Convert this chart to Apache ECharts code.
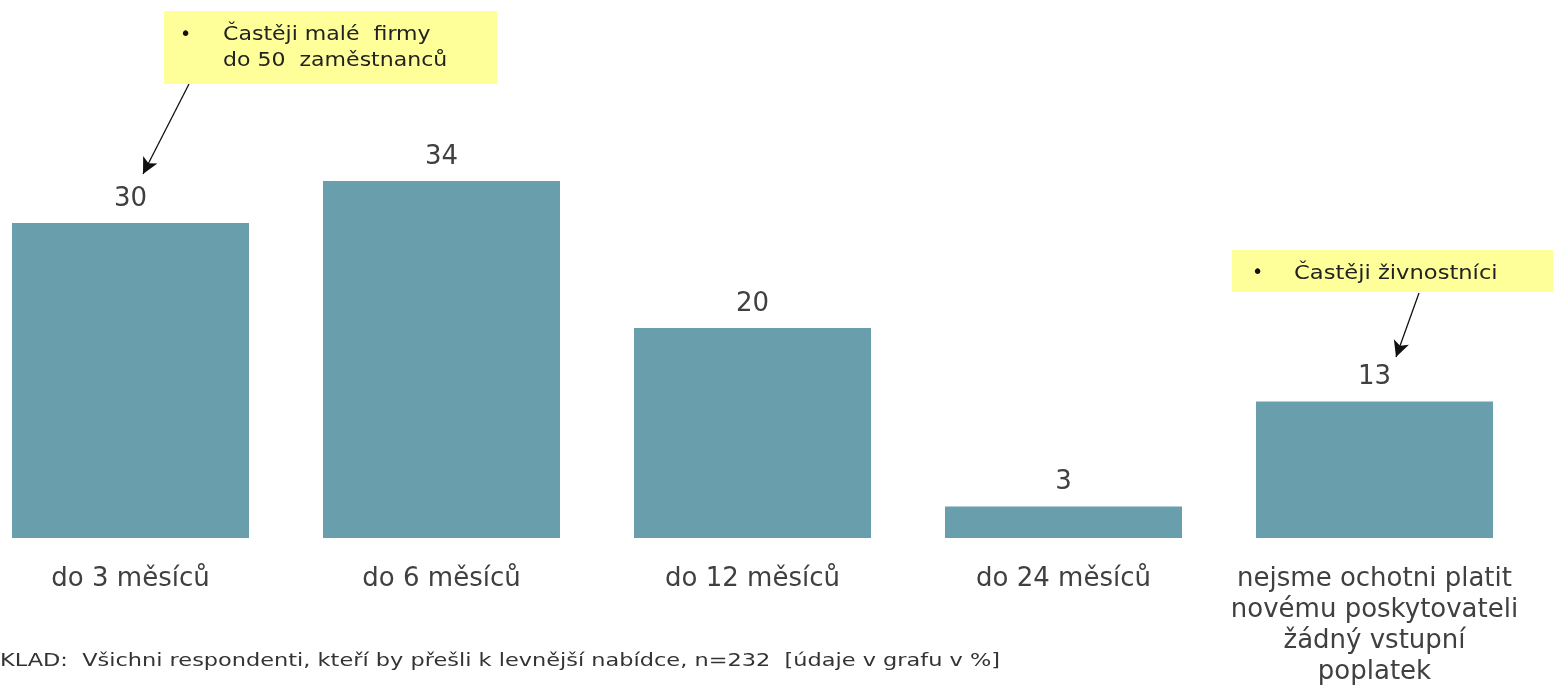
<!DOCTYPE html>
<html>
<head>
<meta charset="utf-8">
<script src="https://cdn.jsdelivr.net/npm/echarts@6/dist/echarts.min.js"></script>
<style>
    html, body { margin: 0; padding: 0; background: #fff; overflow: hidden; }
    #chart { width: 1578px; height: 689px; margin-left: -25px; }
</style>
</head>
<body>
<div id="chart"></div>
<script>
var categories = ['do 3 měsíců', 'do 6 měsíců', 'do 12 měsíců', 'do 24 měsíců',
    'nejsme ochotni platit\nnovému poskytovateli\nžádný vstupní\npoplatek'];
var values = [30, 34, 20, 3, 13];
var footnote = 'KLAD:  Všichni respondenti, kteří by přešli k levnější nabídce, n=232  [údaje v grafu v %]';

var chartDom = document.getElementById('chart');
var myChart = echarts.init(chartDom);
var option;

var font = 'DejaVu Sans';
// the chart div is moved 25px left, so page x = chart x - 25
var dx = 25;

// small helper for the callout / footnote texts (stretched a bit, like the original)
function note(x, y, text, size, sx, color) {
    return {
        type: 'text',
        x: x + dx,
        y: y,
        scaleX: sx,
        style: {
            text: text,
            fontFamily: font,
            fontSize: size,
            fill: color,
            verticalAlign: 'middle'
        }
    };
}

option = {
    animation: false,
    grid: {
        left: 0,
        right: 23,
        top: 118,
        bottom: 151
    },
    xAxis: {
        type: 'category',
        data: categories,
        axisLine: { show: false },
        axisTick: { show: false },
        axisLabel: {
            interval: 0,
            margin: 26,
            fontFamily: font,
            fontSize: 26,
            lineHeight: 31,
            color: '#404040'
        }
    },
    yAxis: {
        type: 'value',
        min: 0,
        max: 40,
        show: false,
        splitLine: { show: false }
    },
    series: [
        {
            type: 'bar',
            data: values,
            barWidth: 237,
            itemStyle: { color: '#699eac' },
            label: {
                show: true,
                position: 'top',
                distance: 11,
                fontFamily: font,
                fontSize: 26,
                color: '#404040'
            },
            markLine: {
                silent: true,
                symbol: ['none', 'arrow'],
                symbolSize: [12, 16],
                label: { show: false },
                lineStyle: { color: '#111', width: 1.3, type: 'solid' },
                data: [
                    [{ x: 189 + dx, y: 84 }, { x: 143 + dx, y: 174 }],
                    [{ x: 1419 + dx, y: 293 }, { x: 1396 + dx, y: 357 }]
                ]
            }
        }
    ],
    graphic: [
        {
            type: 'rect',
            shape: { x: 164 + dx, y: 11, width: 333, height: 73 },
            style: { fill: '#ffff99' }
        },
        note(180, 35, '•', 19, 1, '#111'),
        note(223, 35.5, 'Častěji malé  firmy', 19, 1.16, '#222'),
        note(223, 61.5, 'do 50  zaměstnanců', 19, 1.16, '#222'),
        {
            type: 'rect',
            shape: { x: 1232 + dx, y: 250, width: 321, height: 42 },
            style: { fill: '#ffff99' }
        },
        note(1252, 273, '•', 19, 1, '#111'),
        note(1294, 274, 'Častěji živnostníci', 19, 1.19, '#222'),
        note(0, 662, footnote, 17, 1.32, '#333')
    ]
};

option && myChart.setOption(option);
</script>
</body>
</html>
